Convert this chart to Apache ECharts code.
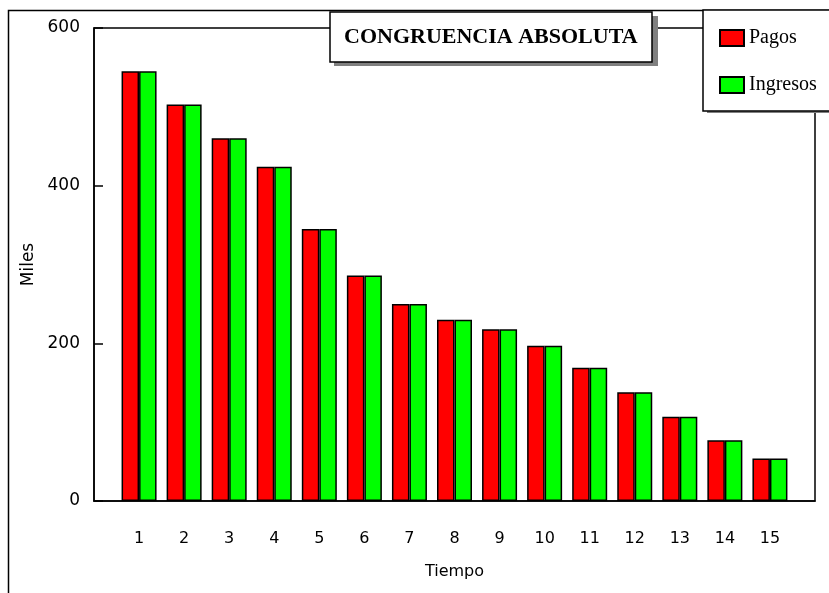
<!DOCTYPE html>
<html>
<head>
<meta charset="utf-8">
<script src="https://cdn.jsdelivr.net/npm/echarts@6/dist/echarts.min.js"></script>
<style>html,body{margin:0;padding:0;background:#fff;}#c{width:829px;height:593px;}</style>
</head>
<body>
<div id="c"></div>
<script>
const categories = ['1','2','3','4','5','6','7','8','9','10','11','12','13','14','15'];
const pagos    = [545, 503, 460, 424, 345, 286, 250, 230, 218, 197, 169, 138, 107, 77, 54];
const ingresos = [545, 503, 460, 424, 345, 286, 250, 230, 218, 197, 169, 138, 107, 77, 54];
const yTicks = [0, 200, 400, 600];

const toPairs = arr => arr.map((v, i) => [i + 1, v]);
const chart = echarts.init(document.getElementById('c'));
chart.setOption({
  animation: false,
  backgroundColor: '#fff',
  title: {
    text: 'CONGRUENCIA ABSOLUTA',
    left: 330, top: 12, z: 8,
    padding: [13, 15, 13, 14],
    backgroundColor: '#fff',
    borderColor: '#000', borderWidth: 1.5,
    textStyle: { fontFamily: 'Liberation Serif', fontWeight: 'bold', fontSize: 22, lineHeight: 24, color: '#000' }
  },
  legend: {
    orient: 'vertical', left: 703, top: 10, z: 8,
    padding: [18, 30, 16, 16],
    itemWidth: 24, itemHeight: 16, itemGap: 27,
    icon: 'rect',
    backgroundColor: '#fff', borderColor: '#000', borderWidth: 1.5,
    textStyle: { fontFamily: 'Liberation Serif', fontSize: 20, color: '#000' }
  },
  graphic: [
    { type: 'rect', z: -10, silent: true,
      shape: { x: 8.5, y: 10.5, width: 900, height: 700 },
      style: { fill: 'none', stroke: '#000', lineWidth: 1.5 } },
    { type: 'rect', z: 7, silent: true,
      shape: { x: 334, y: 16, width: 324, height: 50 },
      style: { fill: '#808080' } },
    { type: 'rect', z: 7, silent: true,
      shape: { x: 707, y: 14, width: 200, height: 99 },
      style: { fill: '#808080' } }
  ],
  grid: { left: 94, top: 28, right: 14, bottom: 92, show: true, borderColor: '#000', borderWidth: 1.5, backgroundColor: '#fff' },
  xAxis: {
    type: 'value', min: 0, max: categories.length + 1, interval: 1,
    name: 'Tiempo', nameLocation: 'middle', nameGap: 63,
    nameTextStyle: { fontFamily: 'DejaVu Sans', fontSize: 16, color: '#000' },
    axisLine: { show: true, lineStyle: { color: '#000', width: 1.5 } },
    axisTick: { show: false },
    splitLine: { show: false },
    axisLabel: {
      margin: 30, color: '#000', fontFamily: 'DejaVu Sans', fontSize: 16,
      formatter: v => (v >= 1 && v <= categories.length) ? categories[v - 1] : ''
    }
  },
  yAxis: {
    type: 'value', min: yTicks[0], max: yTicks[yTicks.length - 1], interval: 200,
    name: 'Miles', nameLocation: 'middle', nameGap: 57, nameRotate: 90,
    nameTextStyle: { fontFamily: 'DejaVu Sans', fontSize: 17, color: '#000' },
    axisLine: { show: true, lineStyle: { color: '#000', width: 1.5 } },
    axisTick: { show: true, inside: true, length: 9, lineStyle: { color: '#000', width: 1.5 } },
    splitLine: { show: false },
    axisLabel: { margin: 14, color: '#000', fontFamily: 'DejaVu Sans', fontSize: 17 }
  },
  series: [
    { name: 'Pagos', type: 'bar', data: toPairs(pagos), barWidth: 17.5, barGap: '0%',
      itemStyle: { color: '#ff0000', borderColor: '#000', borderWidth: 1.5 } },
    { name: 'Ingresos', type: 'bar', data: toPairs(ingresos), barWidth: 17.5, barGap: '0%',
      itemStyle: { color: '#00ff00', borderColor: '#000', borderWidth: 1.5 } }
  ]
});
</script>
</body>
</html>
